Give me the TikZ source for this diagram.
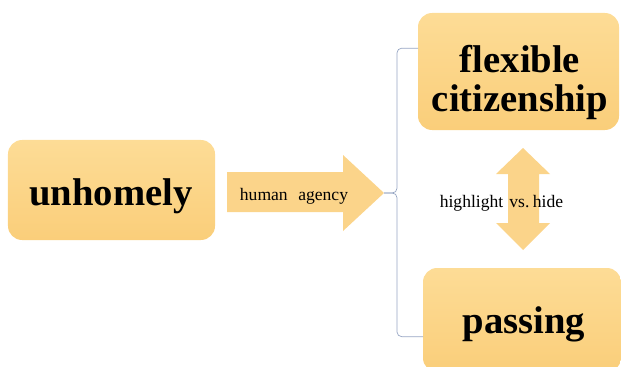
\documentclass[tikz,border=0pt]{standalone}
\usepackage{fontspec}
\setmainfont{Liberation Serif}
\definecolor{boxtop}{RGB}{253,220,150}
\definecolor{boxbot}{RGB}{250,206,122}
\definecolor{arrowfill}{RGB}{251,212,138}
\definecolor{bracketcol}{RGB}{150,165,195}
\tikzset{
	box/.style = {shape=rectangle, rounded corners=12pt, inner sep=0pt, outer sep=0pt, top color=boxtop, bottom color=boxbot},
	big/.style = {align=center, font=\fontsize{33}{33}\selectfont\bfseries},
	small/.style = {align=center, font=\fontsize{15}{17}\selectfont},
	fat/.style = {fill=arrowfill},
	bracket/.style = {draw=bracketcol, line width=0.6pt, rounded corners=4pt},
}

\begin{document}
\begin{tikzpicture}[x=0.03cm, y=-0.03cm]
		\clip (0,0) rectangle (621,366);
		\node[box, minimum width=6.21cm, minimum height=3cm] (home) at (111.5,190) {};
		\node[box, minimum width=6.03cm, minimum height=3.51cm] (flex) at (518.5,71.5) {};
		\node[box, minimum width=5.94cm, minimum height=3.12cm] (pass) at (522,320) {};
		\node[big] (home-txt) at (111,196) {unhomely};
		\node[big] (flex-txt) at (520,82.5) {flexible\\citizenship};
		\node[big] (pass-txt) at (524,324) {passing};

		\fill[fat] (227,172) -- (343,172) -- (343,155) -- (384,193) coordinate (tip) -- (343,231) -- (343,212) -- (227,212) -- cycle;
		\fill[fat] (523,148) -- (550,174) -- (539,174) -- (539,223) -- (550,223) -- (523,250) -- (496,223) -- (508,223) -- (508,174) -- (496,174) -- cycle;
		\node[small] (agency) at (294,196) {human\hspace{0.6em}agency};
		\node[small] (vs) at (501.5,203) {highlight\hspace{0.35em}vs.\hspace{0.2em}hide};

		\draw[bracket] ([yshift=0.7cm]flex.west) -| (397,193) -- (tip);
		\draw[bracket] ([yshift=-0.5cm]pass.west) -| (397,193) -- (tip);
	\end{tikzpicture}
\end{document}
